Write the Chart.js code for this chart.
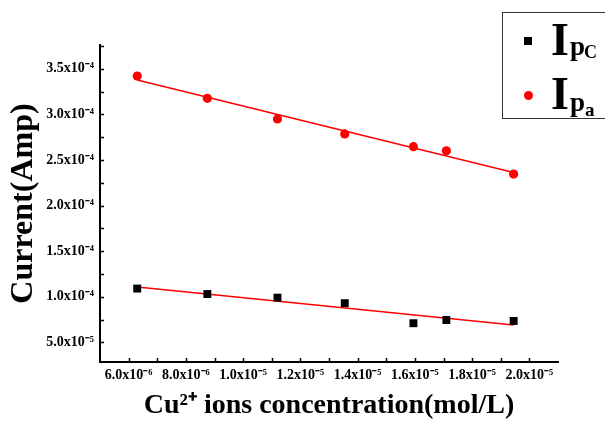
<!DOCTYPE html>
<html>
<head>
<meta charset="utf-8">
<script src="https://cdn.jsdelivr.net/npm/chart.js@4"></script>
<style>
  html, body { margin:0; padding:0; background:#fff; }
  #wrap { position:relative; width:605px; height:424px; overflow:hidden; }
  #legend { position:absolute; left:502px; top:12px; width:120px; height:107px; border:1.5px solid #333; box-sizing:border-box; background:#fff; }
  .lg { position:absolute; font-family:'Liberation Serif','Times New Roman',serif; font-weight:bold; line-height:1; color:#000; white-space:nowrap; }
  .mk { position:absolute; }
</style>
</head>
<body>
<div id="wrap">
  <canvas id="c" width="605" height="424"></canvas>
  <div id="legend"></div>
</div>
<script>
// ---- data ----
const concentrations = [6.3e-6, 8.75e-6, 11.2e-6, 13.55e-6, 15.95e-6, 17.1e-6, 19.45e-6];
const ipaValues = [3.42e-4, 3.175e-4, 2.95e-4, 2.785e-4, 2.645e-4, 2.60e-4, 2.345e-4];
const ipcValues = [1.09e-4, 1.03e-4, 0.99e-4, 0.93e-4, 0.71e-4, 0.745e-4, 0.735e-4];
const seriesNames = ['Ipc', 'Ipa'];
const xTickValues = [5e-6,6e-6,7e-6,8e-6,9e-6,10e-6,11e-6,12e-6,13e-6,14e-6,15e-6,16e-6,17e-6,18e-6,19e-6,20e-6,21e-6];
const xLabelValues = [6e-6, 8e-6, 10e-6, 12e-6, 14e-6, 16e-6, 18e-6, 20e-6];
const yTickValues = [5e-5,7.5e-5,10e-5,12.5e-5,15e-5,17.5e-5,20e-5,22.5e-5,25e-5,27.5e-5,30e-5,32.5e-5,35e-5,37.5e-5];
const yLabelValues = [5e-5, 10e-5, 15e-5, 20e-5, 25e-5, 30e-5, 35e-5];
const xTitle = 'Cu\u00B2\u207A ions concentration(mol/L)';
const yTitle = 'Current(Amp)';

const FONT = "'Liberation Serif','Times New Roman',serif";

function supStr(s){
  const m = {'-':'\u207B','0':'\u2070','1':'\u00B9','2':'\u00B2','3':'\u00B3','4':'\u2074','5':'\u2075','6':'\u2076','7':'\u2077','8':'\u2078','9':'\u2079'};
  return String(s).split('').map(c => m[c] || c).join('');
}
function sci(v){
  const e = Math.floor(Math.log10(v) + 1e-9);
  const mnt = v / Math.pow(10, e);
  return mnt.toFixed(1) + 'x10' + supStr(e);
}
function isLabel(v, arr){ return arr.some(a => Math.abs(a - v) < Math.abs(a) * 1e-6); }

function linFit(xs, ys){
  const n = xs.length;
  const mx = xs.reduce((a,b)=>a+b,0)/n, my = ys.reduce((a,b)=>a+b,0)/n;
  let sxy = 0, sxx = 0;
  for (let i=0;i<n;i++){ sxy += (xs[i]-mx)*(ys[i]-my); sxx += (xs[i]-mx)*(xs[i]-mx); }
  const b = sxy/sxx, a = my - b*mx;
  const x0 = xs[0], x1 = xs[n-1];
  return [{x:x0, y:a+b*x0}, {x:x1, y:a+b*x1}];
}
const toPts = (xs, ys) => xs.map((x,i)=>({x, y:ys[i]}));

// inward tick marks drawn at scale positions
const innerTicks = {
  id:'innerTicks',
  afterDraw(chart){
    const ctx = chart.ctx, xs = chart.scales.x, ys = chart.scales.y, ca = chart.chartArea;
    ctx.save();
    ctx.strokeStyle = '#000'; ctx.lineWidth = 1.5;
    xs.ticks.forEach(t => {
      if (t.value <= xs.min || t.value >= xs.max) return;
      const px = Math.round(xs.getPixelForValue(t.value)) + 0.5;
      ctx.beginPath(); ctx.moveTo(px, ca.bottom); ctx.lineTo(px, ca.bottom - 4); ctx.stroke();
    });
    ys.ticks.forEach(t => {
      if (t.value <= ys.min || t.value >= ys.max) return;
      const py = Math.round(ys.getPixelForValue(t.value)) + 0.5;
      ctx.beginPath(); ctx.moveTo(ca.left, py); ctx.lineTo(ca.left + 4, py); ctx.stroke();
    });
    ctx.restore();
  }
};

new Chart(document.getElementById('c'), {
  type:'scatter',
  data:{
    datasets:[
      { label:seriesNames[0], data:toPts(concentrations, ipcValues), pointStyle:'rect', pointRadius:5.6, pointHoverRadius:5.6,
        backgroundColor:'#000', borderColor:'#000', borderWidth:0, showLine:false, order:0 },
      { label:seriesNames[1], data:toPts(concentrations, ipaValues), pointStyle:'circle', pointRadius:4.6, pointHoverRadius:4.6,
        backgroundColor:'#ff0000', borderColor:'#ff0000', borderWidth:0, showLine:false, order:0 },
      { label:seriesNames[0]+' fit', data:linFit(concentrations, ipcValues), showLine:true, pointRadius:0,
        borderColor:'#ff0000', borderWidth:1.5, fill:false, order:1 },
      { label:seriesNames[1]+' fit', data:linFit(concentrations, ipaValues), showLine:true, pointRadius:0,
        borderColor:'#ff0000', borderWidth:1.5, fill:false, order:1 }
    ]
  },
  options:{
    responsive:false, animation:false, events:[],
    layout:{ padding:{ top:45, right:47, left:0, bottom:0 } },
    plugins:{ legend:{ display:false }, tooltip:{ enabled:false } },
    scales:{
      x:{
        type:'linear', min:5e-6, max:2.1e-5,
        afterBuildTicks(s){ s.ticks = xTickValues.map(v => ({value:v})); },
        afterFit(s){ s.height = 62; },
        grid:{ display:false, drawTicks:false },
        border:{ display:true, color:'#000', width:2 },
        ticks:{ autoSkip:false, maxRotation:0, minRotation:0, padding:5, color:'#000',
          font:{ family:FONT, size:14, weight:'bold' },
          callback:(v) => isLabel(v, xLabelValues) ? sci(v) : '' },
        title:{ display:true, text:xTitle, color:'#000', padding:{top:0, bottom:1},
          font:{ family:FONT, size:28, weight:'bold' } }
      },
      y:{
        type:'linear', min:2.85e-5, max:3.76e-4,
        afterBuildTicks(s){ s.ticks = yTickValues.map(v => ({value:v})); },
        afterFit(s){ s.width = 100; },
        grid:{ display:false, drawTicks:false },
        border:{ display:true, color:'#000', width:2 },
        ticks:{ autoSkip:false, padding:6, color:'#000',
          font:{ family:FONT, size:14, weight:'bold' },
          callback:(v) => isLabel(v, yLabelValues) ? sci(v) : '' },
        title:{ display:true, text:yTitle, color:'#000', padding:{top:5, bottom:0},
          font:{ family:FONT, size:32, weight:'bold' } }
      }
    }
  },
  plugins:[innerTicks]
});

// legend (HTML, with sub-scripts)
(function(){
  const lg = document.getElementById('legend');
  const ox = 502, oy = 12;
  function span(txt, size, left, baseline){
    const s = document.createElement('span');
    s.className = 'lg'; s.textContent = txt;
    s.style.fontSize = size + 'px';
    s.style.left = (left - ox) + 'px';
    s.style.top = (baseline - 0.8375*size - oy) + 'px';
    lg.appendChild(s);
  }
  const sq = document.createElement('div');
  sq.className = 'mk';
  sq.style.cssText = 'left:'+(523-ox)+'px;top:'+(36-oy)+'px;width:8px;height:8px;background:#000;';
  lg.appendChild(sq);
  const ci = document.createElement('div');
  ci.className = 'mk';
  ci.style.cssText = 'left:'+(522.5-ox)+'px;top:'+(89.5-oy)+'px;width:9px;height:9px;border-radius:50%;background:#ff0000;';
  lg.appendChild(ci);
  span('I', 46, 550, 55); span('p', 27, 569, 55); span('C', 18, 583, 57);
  span('I', 46, 550, 109); span('p', 27, 569, 111); span('a', 19, 584, 115);
})();
</script>
</body>
</html>
